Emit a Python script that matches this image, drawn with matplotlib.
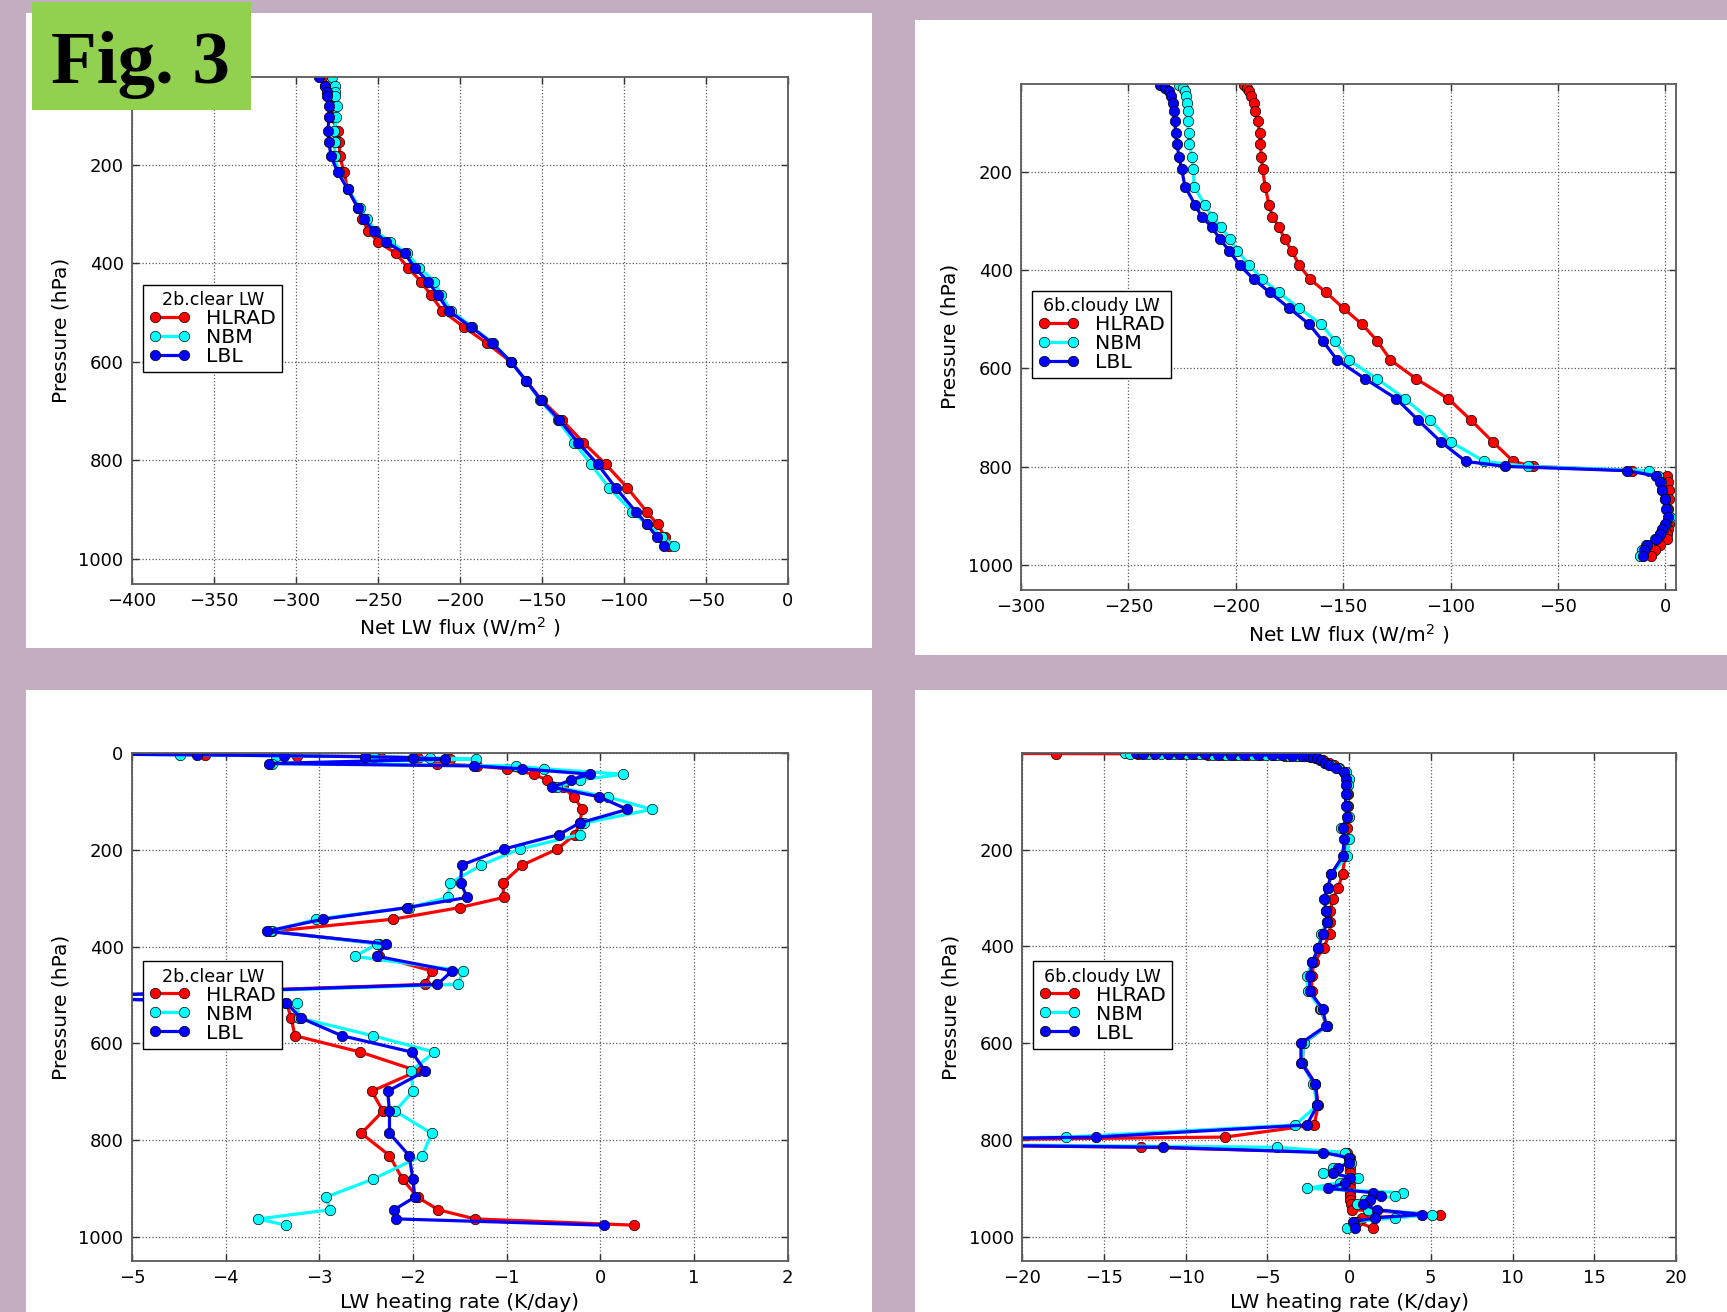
import matplotlib
matplotlib.use('Agg')
import matplotlib.pyplot as plt
from matplotlib.patches import Rectangle

# ---- data ----
names = ['HLRAD', 'NBM', 'LBL']
colors = ['#ff0000', '#00ffff', '#0000ff']

# 2b clear, net LW flux
flux_clear_p = [22.7, 39.6, 53.1, 61.3, 80.2, 103.9, 131.0, 154.7, 183.1, 215.6, 249.4, 288.7,
                310.3, 334.0, 356.3, 380.0, 408.5, 436.9, 464.0, 496.4, 528.9, 562.1, 600.0,
                638.6, 677.1, 717.8, 763.8, 807.8, 855.1, 904.5, 929.6, 954.6, 973.6]
flux_clear_hlrad = [-283.9, -282.0, -280.9, -279.8, -278.5, -278.5, -274.4, -273.6, -273.1, -270.6,
                    -268.4, -261.9, -259.4, -255.9, -249.9, -239.0, -231.6, -223.7, -217.7, -210.6,
                    -197.6, -183.4, -168.7, -159.4, -150.1, -137.6, -124.5, -110.9, -97.8, -85.8,
                    -79.3, -74.9, -72.2]
flux_clear_nbm = [-277.7, -276.0, -275.8, -275.8, -274.9, -275.2, -276.6, -276.3, -276.3, -273.9,
                  -268.4, -260.8, -256.4, -251.5, -242.5, -232.2, -224.8, -215.5, -211.7, -205.2,
                  -192.6, -179.6, -168.7, -159.4, -151.2, -140.3, -130.0, -119.9, -109.0, -94.6,
                  -85.8, -76.6, -69.2]
flux_clear_lbl = [-285.8, -282.0, -281.2, -281.2, -279.8, -279.8, -280.4, -279.8, -278.5, -274.4,
                  -268.4, -261.9, -258.6, -252.6, -245.0, -233.5, -227.5, -219.3, -213.4, -206.8,
                  -193.2, -180.1, -168.7, -159.4, -150.7, -139.2, -127.8, -115.8, -104.9, -92.4,
                  -85.8, -79.8, -75.5]

# 6b cloudy, net LW flux
flux_cloudy_p = [22.8, 29.6, 36.4, 46.5, 60.0, 76.9, 97.2, 120.9, 144.6, 169.6, 195.3, 230.4,
                 268.3, 291.3, 311.6, 337.3, 360.9, 390.0, 418.4, 445.5, 477.9, 509.7, 544.2,
                 582.7, 621.3, 661.8, 705.1, 749.7, 789.0, 799.1, 807.9, 818.7, 830.9, 847.8,
                 864.7, 885.0, 901.9, 915.4, 925.6, 935.7, 945.8, 958.0, 969.5, 981.0]
flux_cloudy_hlrad = [-196.2, -195.0, -194.0, -192.9, -191.7, -190.9, -189.7, -188.9, -188.5, -188.1,
                     -187.5, -186.3, -184.5, -182.9, -180.0, -177.2, -174.0, -170.4, -165.5, -157.9,
                     -149.8, -141.3, -134.1, -128.0, -115.9, -101.0, -90.5, -80.2, -70.8, -61.5,
                     -15.7, 1.0, 1.4, 1.8, 1.6, 1.4, 1.8, 1.6, 1.4, 1.0, 0.6, -2.6, -4.6, -6.7]
flux_cloudy_nbm = [-226.4, -224.8, -223.8, -223.2, -222.8, -222.4, -222.4, -222.0, -221.6, -220.4,
                   -219.8, -219.4, -214.3, -211.1, -206.9, -202.8, -199.2, -193.8, -187.7, -180.0,
                   -170.4, -160.3, -153.8, -147.4, -134.1, -121.2, -109.5, -99.8, -84.3, -64.1,
                   -7.7, -3.6, -2.2, -1.4, -0.2, 1.0, 2.4, 0.4, -1.0, -2.6, -4.6, -9.1, -10.7, -11.7]
flux_cloudy_lbl = [-235.5, -232.9, -231.3, -230.0, -229.2, -228.8, -228.4, -228.0, -227.4, -226.4,
                   -225.2, -223.6, -218.8, -215.9, -211.3, -207.3, -203.0, -198.2, -191.7, -184.1,
                   -175.0, -165.9, -159.5, -152.8, -139.7, -125.2, -115.1, -104.4, -92.9, -74.8,
                   -17.7, -4.2, -2.6, -1.6, -0.2, 0.4, 1.4, -0.2, -1.6, -2.6, -4.2, -8.7, -9.7, -10.3]

# 2b clear, LW heating rate
hr_clear_p = [1, 3, 5, 7, 9, 12, 21, 26, 32, 43, 55, 70, 90, 116, 144, 168, 198, 231, 268, 298,
              319, 343, 368, 394, 420, 450, 478, 505, 516, 547, 584, 618, 657, 699, 740, 786,
              832, 881, 918, 944, 963, 976]
hr_clear_hlrad = [-5.8, -4.22, -3.24, -2.35, -1.95, -1.6, -1.74, -1.32, -1.0, -0.71, -0.57, -0.4,
                  -0.28, -0.19, -0.22, -0.27, -0.46, -0.83, -1.04, -1.03, -1.5, -2.21, -3.5, -2.36,
                  -2.36, -1.8, -1.87, -6.0, -3.35, -3.30, -3.26, -2.56, -1.95, -2.44, -2.32, -2.55,
                  -2.25, -2.11, -1.95, -1.73, -1.34, 0.36]
hr_clear_nbm = [-5.8, -4.49, -3.46, -2.42, -1.82, -1.33, -3.5, -0.9, -0.6, 0.24, -0.22, -0.46,
                0.08, 0.55, -0.17, -0.22, -0.86, -1.27, -1.6, -1.63, -2.04, -3.03, -3.51, -2.38,
                -2.62, -1.46, -1.52, -6.0, -3.24, -3.22, -2.43, -1.77, -2.02, -2.0, -2.19, -1.80,
                -1.90, -2.43, -2.93, -2.88, -3.65, -3.36]
hr_clear_lbl = [-5.8, -4.31, -3.38, -2.51, -2.0, -1.66, -3.54, -1.35, -0.83, -0.11, -0.31, -0.51,
                -0.01, 0.29, -0.22, -0.44, -1.03, -1.48, -1.49, -1.42, -2.06, -2.96, -3.56, -2.29,
                -2.38, -1.58, -1.74, -6.0, -3.35, -3.2, -2.76, -2.01, -1.87, -2.27, -2.25, -2.25,
                -2.04, -2.0, -1.98, -2.2, -2.18, 0.04]

# 6b cloudy, LW heating rate
hr_cloudy_p = [1.0, 1.5, 2.0, 2.3, 2.6, 2.9, 3.2, 3.5, 3.8, 4.1, 4.4, 4.7, 5.0, 5.5, 6.0, 7.0, 8.0,
               11, 15, 20, 25, 32, 39, 53, 67, 85, 109, 132, 155, 179, 214, 250, 279, 301, 326,
               349, 375, 403, 433, 461, 493, 529, 564, 600, 640, 684, 728, 769, 794, 805, 815,
               826, 837, 847, 857, 868, 878, 888, 900, 909, 916, 924, 933, 944, 954, 961, 969, 982]
hr_cloudy_hlrad = [-25, -17.9, -12.9, -11.9, -11.0, -10.2, -9.4, -8.6, -7.8, -7.0, -6.2, -5.4, -4.6,
                   -3.9, -3.2, -2.7, -2.3, -2.0, -1.6, -1.2, -0.9, -0.6, -0.3,
                   -0.13, -0.1, -0.08, -0.08, -0.05, -0.1, -0.15, -0.25, -0.4, -0.66, -1.0, -1.14,
                   -1.14, -1.19, -1.56, -2.14, -2.28, -2.28, -1.8, -1.32, -2.78, -2.86, -2.06,
                   -1.88, -2.14, -7.6, -40, -12.7,
                   -0.1, 0.05, 0.06, 0.06, 0.06, 0.06, 0.06, 0.06, 0.05, 0.05, 0.05, 0.1, 0.16,
                   5.57, 0.8, 0.5, 1.45]
hr_cloudy_nbm = [-13.7, -13.4, -12.3, -11.5, -10.7, -9.9, -9.1, -8.3, -7.5, -6.7, -5.9, -5.1, -4.4,
                 -3.7, -3.1, -2.6, -2.3, -2.0, -1.8, -1.5, -1.1, -0.7, -0.2,
                 -0.03, -0.08, -0.13, -0.13, -0.03, -0.48, -0.03, -0.13, -1.09, -1.27, -1.48, -1.4,
                 -1.35, -1.72, -1.88, -2.25, -2.59, -2.51, -1.72, -1.35, -2.78, -2.86, -2.2,
                 -1.93, -3.31, -17.3, -40, -4.4,
                 -0.24, 0.0, 0.1, -0.96, -1.61, 0.57, -0.55, -2.55, 3.33, 2.82, 1.0, 0.47, 1.18,
                 5.1, 2.82, 0.3, -0.14]
hr_cloudy_lbl = [-13.0, -12.6, -11.85, -11.1, -10.4, -9.6, -8.8, -8.0, -7.2, -6.4, -5.55, -4.7, -4.1,
                 -3.5, -2.9, -2.5, -2.2, -1.95, -1.7, -1.5, -1.2, -0.8, -0.3,
                 -0.21, -0.21, -0.21, -0.21, -0.13, -0.4, -0.29, -0.4, -1.09, -1.3, -1.56, -1.4,
                 -1.32, -1.61, -1.88, -2.25, -2.41, -2.41, -1.61, -1.4, -2.94, -2.94, -2.06,
                 -1.93, -2.59, -15.5, -40, -11.4,
                 -1.57, 0.02, 0.0, -0.65, -1.0, 0.06, -0.24, -1.27, 1.49, 1.96, 1.29, 0.84, 1.69,
                 4.45, 1.59, 0.22, 0.37]

flux_xticks = [-400, -350, -300, -250, -200, -150, -100, -50, 0]
flux_xticks_cloudy = [-300, -250, -200, -150, -100, -50, 0]
hr_xticks_clear = [-5, -4, -3, -2, -1, 0, 1, 2]
hr_xticks_cloudy = [-20, -15, -10, -5, 0, 5, 10, 15, 20]
p_ticks = [200, 400, 600, 800, 1000]
p_ticks_zero = [0, 200, 400, 600, 800, 1000]

flux_label = r'Net LW flux (W/m$^2$ )'
hr_label = 'LW heating rate (K/day)'

# ---- figure ----
fig = plt.figure(figsize=(17.27, 13.12), dpi=100, facecolor='#c3adc1')

# white slide panels behind each plot
for x0, y0, w, h in [(0.0150, 0.5061, 0.4899, 0.4840), (0.5298, 0.5008, 0.4702, 0.4840),
                     (0.0150, 0.0, 0.4899, 0.4741), (0.5298, 0.0, 0.4702, 0.4741)]:
    fig.add_artist(Rectangle((x0, y0), w, h, transform=fig.transFigure,
                             facecolor='white', edgecolor='none', zorder=-10))


def draw_panel(rect, p, series, title, xlim, xticks, ylim, yticks, xlabel):
    ax = fig.add_axes(rect)
    for vals, name, col in zip(series, names, colors):
        ax.plot(vals, p, '-o', color=col, lw=2.3, ms=7.5, mec='k', mew=0.5, label=name)
    ax.set_xlim(xlim)
    ax.set_ylim(ylim)
    ax.set_xticks(xticks)
    ax.set_yticks(yticks)
    ax.grid(True, ls=':', color='0.35', lw=0.9)
    ax.set_axisbelow(True)
    ax.tick_params(direction='in', top=True, right=True, length=5, width=1,
                   labelsize=13, pad=6, colors='0.2', labelcolor='black')
    for s in ax.spines.values():
        s.set_color('0.35')
        s.set_linewidth(1.3)
    ax.set_xlabel(xlabel, fontsize=14.5)
    ax.set_ylabel('Pressure (hPa)', fontsize=14.5, labelpad=6)
    leg = ax.legend(loc='upper left', bbox_to_anchor=(0.017, 0.59), borderaxespad=0,
                    title=title, numpoints=2, fontsize=14.7, title_fontsize=12.6,
                    fancybox=False, framealpha=1, edgecolor='black', handlelength=2.0,
                    handletextpad=0.8, labelspacing=0.0, borderpad=0.3)
    leg.get_frame().set_linewidth(1.0)
    return ax


draw_panel([0.0764, 0.5551, 0.3796, 0.3862], flux_clear_p,
           [flux_clear_hlrad, flux_clear_nbm, flux_clear_lbl], '2b.clear LW',
           (-400, 0), flux_xticks, (1050, 22), p_ticks, flux_label)
draw_panel([0.5912, 0.5505, 0.3793, 0.3857], flux_cloudy_p,
           [flux_cloudy_hlrad, flux_cloudy_nbm, flux_cloudy_lbl], '6b.cloudy LW',
           (-300, 5), flux_xticks_cloudy, (1050, 21), p_ticks, flux_label)
draw_panel([0.0764, 0.0389, 0.3796, 0.3869], hr_clear_p,
           [hr_clear_hlrad, hr_clear_nbm, hr_clear_lbl], '2b.clear LW',
           (-5, 2), hr_xticks_clear, (1050, 0), p_ticks_zero, hr_label)
draw_panel([0.5918, 0.0389, 0.3787, 0.3869], hr_cloudy_p,
           [hr_cloudy_hlrad, hr_cloudy_nbm, hr_cloudy_lbl], '6b.cloudy LW',
           (-20, 20), hr_xticks_cloudy, (1050, 1), p_ticks, hr_label)

# green "Fig. 3" tag over the top-left corner
fig.add_artist(Rectangle((0.0185, 0.9162), 0.1268, 0.0823, transform=fig.transFigure,
                         facecolor='#92d050', edgecolor='none', zorder=10))
fig.text(0.0816, 0.937, 'Fig. 3', ha='center', va='baseline', fontsize=54,
         fontweight='bold', family='Liberation Serif', zorder=11)

fig.savefig('out.png', dpi=100, facecolor=fig.get_facecolor())
